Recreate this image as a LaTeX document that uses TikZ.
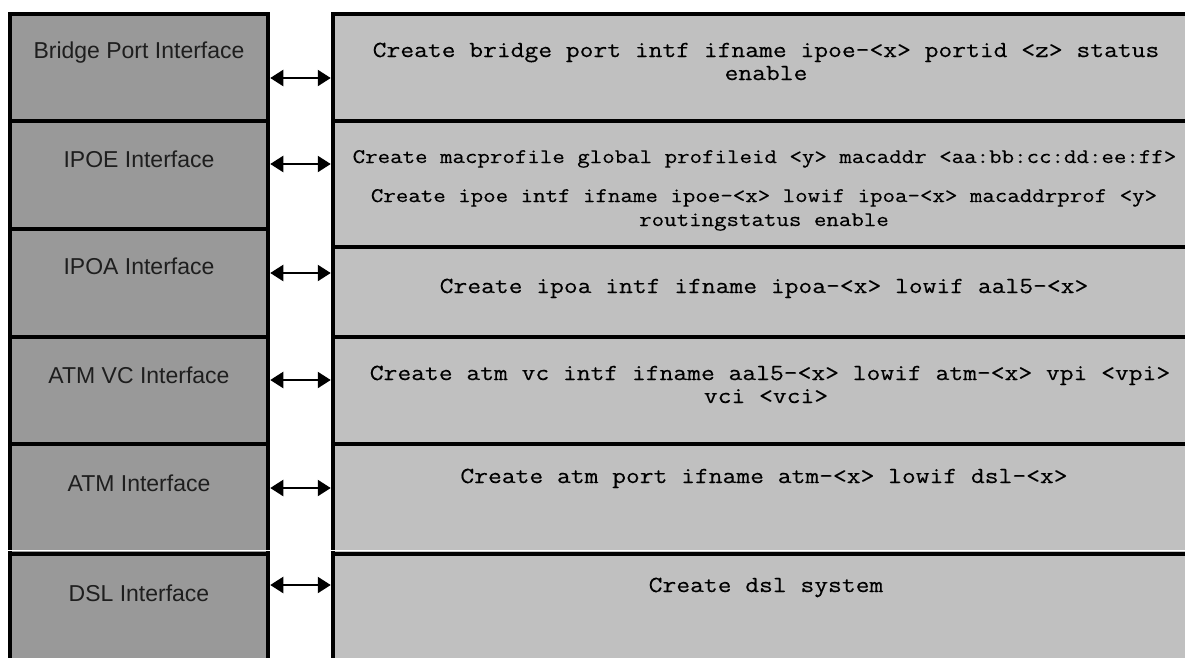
\documentclass[tikz,border=0pt]{standalone}
\usepackage{fontspec}
\setmainfont{Liberation Sans}
\newfontfamily\monof[FakeStretch=1.165,FakeBold=0.35]{Latin Modern Mono}
\usetikzlibrary{arrows.meta}
\definecolor{lfill}{RGB}{153,153,153}
\definecolor{rfill}{RGB}{192,192,192}
\definecolor{ink}{RGB}{30,30,30}
\begin{document}
\begin{tikzpicture}[x=1pt,y=-1pt,
  lbox/.style={draw=black,line width=4.5pt,fill=lfill,inner sep=0pt,minimum width=258pt},
  rbox/.style={draw=black,line width=4.5pt,fill=rfill,inner sep=0pt,minimum width=867pt},
  ltext/.style={anchor=base,inner sep=0pt,font=\fontsize{23}{26}\selectfont,text=ink},
  rtext/.style={anchor=base,inner sep=0pt,font=\monof\fontsize{23}{26}\selectfont,text=black},
  rsmall/.style={anchor=base,inner sep=0pt,font=\monof\fontsize{20.8}{24}\selectfont,text=black},
  conn/.style={{Triangle[length=13pt,width=16pt]}-{Triangle[length=13pt,width=16pt]},line width=2.2pt}]
\useasboundingbox (0,0) rectangle (1185,657);
\clip (0,0) rectangle (1185,657);
\fill[white] (0,0) rectangle (1185,657);
% left column
\node[lbox,minimum height=107pt] (bpL) at (139,67.5) {};
\node[lbox,minimum height=108pt] (ipoeL) at (139,175) {};
\node[lbox,minimum height=108pt] (ipoaL) at (139,283) {};
\node[lbox,minimum height=107pt] (atmvcL) at (139,390.5) {};
\node[lbox,minimum height=110pt] (atmL) at (139,499) {};
\node[lbox,minimum height=166pt] (dslL) at (139,637) {};
% right column
\node[rbox,minimum height=107pt] (bpR) at (766.5,67.5) {};
\node[rbox,minimum height=126pt] (ipoeR) at (766.5,184) {};
\node[rbox,minimum height=90pt] (ipoaR) at (766.5,292) {};
\node[rbox,minimum height=107pt] (atmvcR) at (766.5,390.5) {};
\node[rbox,minimum height=110pt] (atmR) at (766.5,499) {};
\node[rbox,minimum height=166pt] (dslR) at (766.5,637) {};
\draw[white,line width=1.5pt] (0,550.5) -- (1185,550.5);
% left labels
\node[ltext] (bpT) at (139,58) {Bridge Port Interface};
\node[ltext] (ipoeT) at (139,167) {IPOE Interface};
\node[ltext] (ipoaT) at (139,274) {IPOA Interface};
\node[ltext] (atmvcT) at (139,383) {ATM VC Interface};
\node[ltext] (atmT) at (139,491) {ATM Interface};
\node[ltext] (dslT) at (139,601) {DSL Interface};
% right texts
\node[rtext] (bp1) at (766,57) {Create bridge port intf ifname ipoe-<x> portid <z> status};
\node[rtext] (bp2) at (766,80) {enable};
\node[rsmall] (ipoe1) at (764.5,163) {Create macprofile global profileid <y> macaddr <aa:bb:cc:dd:ee:ff>};
\node[rsmall] (ipoe2) at (764,202) {Create ipoe intf ifname ipoe-<x> lowif ipoa-<x> macaddrprof <y>};
\node[rsmall] (ipoe3) at (764,226) {routingstatus enable};
\node[rtext] (ipoa1) at (764,293) {Create ipoa intf ifname ipoa-<x> lowif aal5-<x>};
\node[rtext] (atmvc1) at (770,380) {Create atm vc intf ifname aal5-<x> lowif atm-<x> vpi <vpi>};
\node[rtext] (atmvc2) at (766,403) {vci <vci>};
\node[rtext] (atm1) at (764,483) {Create atm port ifname atm-<x> lowif dsl-<x>};
\node[rtext] (dsl1) at (766,592) {Create dsl system};
% connectors
\coordinate (a1) at (0,78);
\coordinate (a2) at (0,164);
\coordinate (a3) at (0,273);
\coordinate (a4) at (0,380);
\coordinate (a5) at (0,488);
\coordinate (a6) at (0,585);
\draw[conn] (bpL.east |- a1) -- (bpR.west |- a1);
\draw[conn] (ipoeL.east |- a2) -- (ipoeR.west |- a2);
\draw[conn] (ipoaL.east |- a3) -- (ipoaR.west |- a3);
\draw[conn] (atmvcL.east |- a4) -- (atmvcR.west |- a4);
\draw[conn] (atmL.east |- a5) -- (atmR.west |- a5);
\draw[conn] (dslL.east |- a6) -- (dslR.west |- a6);
\end{tikzpicture}
\end{document}
